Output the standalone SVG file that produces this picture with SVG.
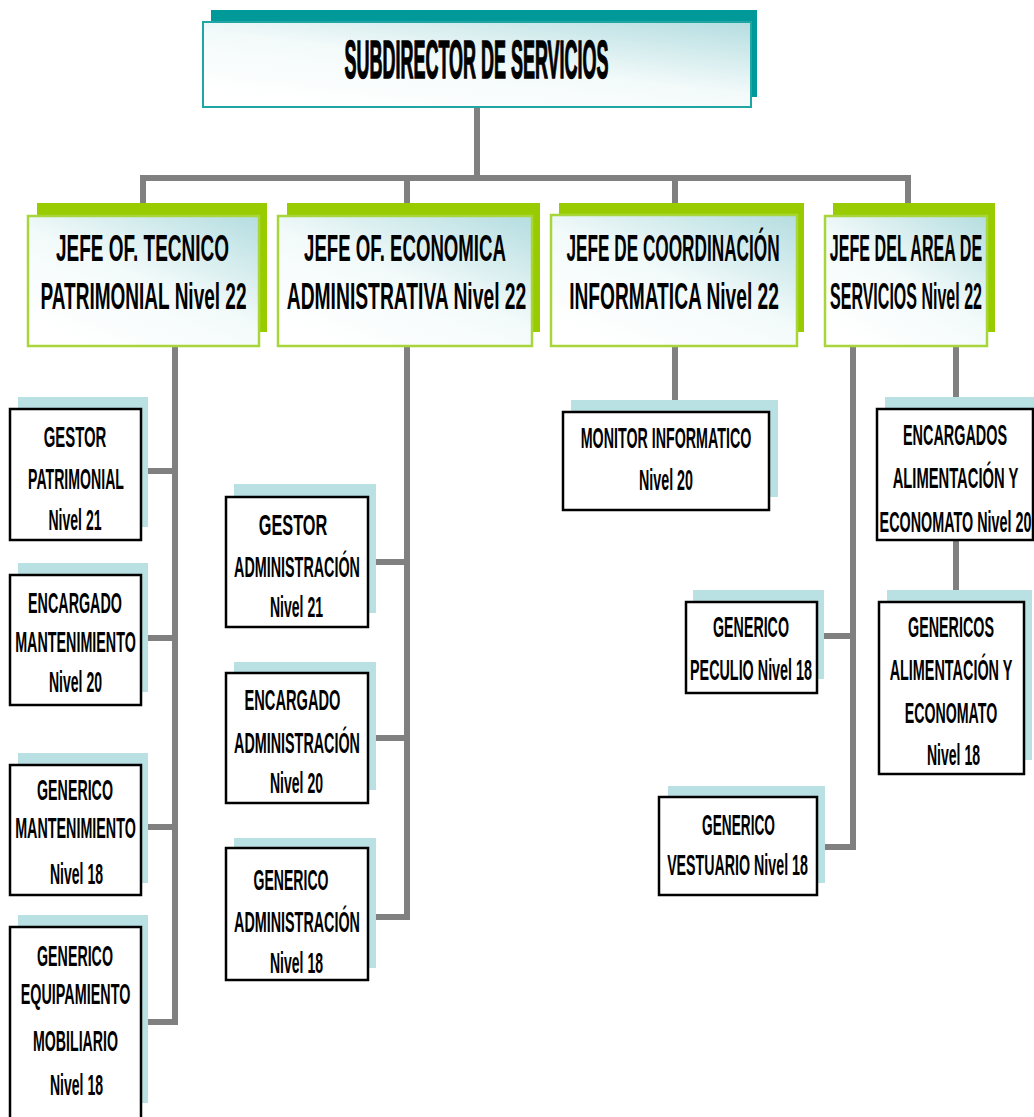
<svg xmlns="http://www.w3.org/2000/svg" width="1034" height="1117" viewBox="0 0 1034 1117">
<defs>
<linearGradient id="g" x1="0.25" y1="1" x2="1" y2="0">
<stop offset="0" stop-color="#ffffff"/>
<stop offset="0.45" stop-color="#f3fafa"/>
<stop offset="1" stop-color="#b4dde0"/>
</linearGradient>
<style>
.conn{fill:none;stroke:#808080;stroke-width:6;stroke-linejoin:miter}
.tsh{fill:#009999}
.tmain{fill:url(#g);stroke:#20a5a5;stroke-width:2}
.gsh{fill:#99cc00}
.gmain{fill:url(#g);stroke:#a8d63a;stroke-width:2.5}
.bsh{fill:#b9e0e3}
.bmain{fill:#ffffff;stroke:#000000;stroke-width:2.5}
text{text-anchor:middle;fill:#000;font-family:"Liberation Sans",Arial,sans-serif;font-weight:bold}
.title{font-size:53px;stroke:#000;stroke-width:1.5px}
.l2{font-size:37px}
.l3{font-size:29px}
</style>
</defs>
<rect width="1034" height="1117" fill="#ffffff"/>
<g id="connectors">
<path class="conn" d="M477,107 V178 M143,178 H908 M143,175 V203 M407,175 V203 M675,175 V203 M908,175 V203"/>
<path class="conn" d="M175,346 V1022 H148 M148,471 H175 M148,638 H175 M148,827 H175"/>
<path class="conn" d="M407,346 V917 H376 M376,562 H407 M376,738 H407"/>
<path class="conn" d="M675,346 V400"/>
<path class="conn" d="M853,346 V847 H825 M824,636 H853 M956,346 V397 M956,540 V590"/>
</g>
<g id="subdirector">
<rect class="tsh" x="211" y="10" width="546" height="87"/>
<rect class="tmain" x="203" y="22" width="548" height="85"/>
<text class="title" transform="translate(476.5,78) scale(0.339,1)">SUBDIRECTOR DE SERVICIOS</text>
</g>
<g id="jefe-tecnico">
<rect class="gsh" x="37" y="203" width="230" height="129"/>
<rect class="gmain" x="28" y="216" width="231" height="130"/>
<text class="l2" transform="translate(142.5,261) scale(0.513,1)">JEFE OF. TECNICO</text>
<text class="l2" transform="translate(143.5,309) scale(0.514,1)">PATRIMONIAL Nivel 22</text>
</g>
<g id="jefe-economica">
<rect class="gsh" x="287" y="203" width="253" height="129"/>
<rect class="gmain" x="278" y="216" width="254" height="130"/>
<text class="l2" transform="translate(405,261) scale(0.504,1)">JEFE OF. ECONOMICA</text>
<text class="l2" transform="translate(406.5,309) scale(0.521,1)">ADMINISTRATIVA Nivel 22</text>
</g>
<g id="jefe-informatica">
<rect class="gsh" x="559" y="203" width="245" height="129"/>
<rect class="gmain" x="551" y="215" width="246" height="131"/>
<text class="l2" transform="translate(673,261) scale(0.465,1)">JEFE DE COORDINACIÓN</text>
<text class="l2" transform="translate(674,309) scale(0.518,1)">INFORMATICA Nivel 22</text>
</g>
<g id="jefe-servicios">
<rect class="gsh" x="833" y="203" width="162" height="129"/>
<rect class="gmain" x="825" y="216" width="162" height="130"/>
<text class="l2" transform="translate(906,261) scale(0.435,1)">JEFE DEL AREA DE</text>
<text class="l2" transform="translate(906,309) scale(0.433,1)">SERVICIOS Nivel 22</text>
</g>
<g id="gestor-patrimonial">
<rect class="bsh" x="18" y="397" width="130" height="130"/>
<rect class="bmain" x="10" y="409" width="131" height="131"/>
<text class="l3" transform="translate(75,447) scale(0.514,1)">GESTOR</text>
<text class="l3" transform="translate(76,489) scale(0.487,1)">PATRIMONIAL</text>
<text class="l3" transform="translate(75,530) scale(0.484,1)">Nivel 21</text>
</g>
<g id="encargado-mantenimiento">
<rect class="bsh" x="18" y="563" width="130" height="129"/>
<rect class="bmain" x="10" y="575" width="131" height="130"/>
<text class="l3" transform="translate(75,613) scale(0.494,1)">ENCARGADO</text>
<text class="l3" transform="translate(75.5,652) scale(0.494,1)">MANTENIMIENTO</text>
<text class="l3" transform="translate(75.5,692) scale(0.484,1)">Nivel 20</text>
</g>
<g id="generico-mantenimiento">
<rect class="bsh" x="18" y="753" width="130" height="130"/>
<rect class="bmain" x="10" y="765" width="131" height="130"/>
<text class="l3" transform="translate(75,800) scale(0.491,1)">GENERICO</text>
<text class="l3" transform="translate(75.5,838) scale(0.494,1)">MANTENIMIENTO</text>
<text class="l3" transform="translate(76.5,884) scale(0.484,1)">Nivel 18</text>
</g>
<g id="generico-equipamiento">
<rect class="bsh" x="18" y="915" width="130" height="188"/>
<rect class="bmain" x="10" y="927" width="131" height="200"/>
<text class="l3" transform="translate(75,966) scale(0.491,1)">GENERICO</text>
<text class="l3" transform="translate(75.5,1004) scale(0.496,1)">EQUIPAMIENTO</text>
<text class="l3" transform="translate(75.5,1051) scale(0.489,1)">MOBILIARIO</text>
<text class="l3" transform="translate(76.5,1095) scale(0.484,1)">Nivel 18</text>
</g>
<g id="gestor-administracion">
<rect class="bsh" x="234" y="484" width="142" height="129"/>
<rect class="bmain" x="226" y="497" width="142" height="130"/>
<text class="l3" transform="translate(293,535) scale(0.563,1)">GESTOR</text>
<text class="l3" transform="translate(297,577) scale(0.495,1)">ADMINISTRACIÓN</text>
<text class="l3" transform="translate(296.5,617) scale(0.484,1)">Nivel 21</text>
</g>
<g id="encargado-administracion">
<rect class="bsh" x="234" y="662" width="142" height="128"/>
<rect class="bmain" x="226" y="673" width="142" height="130"/>
<text class="l3" transform="translate(292.5,710) scale(0.505,1)">ENCARGADO</text>
<text class="l3" transform="translate(297,753) scale(0.495,1)">ADMINISTRACIÓN</text>
<text class="l3" transform="translate(296.5,793) scale(0.484,1)">Nivel 20</text>
</g>
<g id="generico-administracion">
<rect class="bsh" x="234" y="838" width="142" height="130"/>
<rect class="bmain" x="226" y="848" width="142" height="132"/>
<text class="l3" transform="translate(291,890) scale(0.485,1)">GENERICO</text>
<text class="l3" transform="translate(297,932) scale(0.495,1)">ADMINISTRACIÓN</text>
<text class="l3" transform="translate(296.5,973) scale(0.484,1)">Nivel 18</text>
</g>
<g id="monitor-informatico">
<rect class="bsh" x="571" y="400" width="207" height="97"/>
<rect class="bmain" x="563" y="412" width="206" height="98"/>
<text class="l3" transform="translate(666,448) scale(0.492,1)">MONITOR INFORMATICO</text>
<text class="l3" transform="translate(666,490) scale(0.493,1)">Nivel 20</text>
</g>
<g id="generico-peculio">
<rect class="bsh" x="693" y="590" width="131" height="89"/>
<rect class="bmain" x="686" y="602" width="131" height="91"/>
<text class="l3" transform="translate(751,637) scale(0.491,1)">GENERICO</text>
<text class="l3" transform="translate(751,680) scale(0.495,1)">PECULIO Nivel 18</text>
</g>
<g id="generico-vestuario">
<rect class="bsh" x="668" y="786" width="157" height="97"/>
<rect class="bmain" x="659" y="797" width="158" height="98"/>
<text class="l3" transform="translate(738.5,835) scale(0.472,1)">GENERICO</text>
<text class="l3" transform="translate(737.5,875) scale(0.491,1)">VESTUARIO Nivel 18</text>
</g>
<g id="encargados-alimentacion">
<rect class="bsh" x="885" y="397" width="160" height="130"/>
<rect class="bmain" x="877" y="409" width="156" height="131"/>
<text class="l3" transform="translate(955,445) scale(0.497,1)">ENCARGADOS</text>
<text class="l3" transform="translate(955.5,488) scale(0.509,1)">ALIMENTACIÓN Y</text>
<text class="l3" transform="translate(955.5,532) scale(0.495,1)">ECONOMATO Nivel 20</text>
</g>
<g id="genericos-alimentacion">
<rect class="bsh" x="887" y="590" width="145" height="170"/>
<rect class="bmain" x="879" y="602" width="145" height="172"/>
<text class="l3" transform="translate(951,637) scale(0.494,1)">GENERICOS</text>
<text class="l3" transform="translate(951,680) scale(0.497,1)">ALIMENTACIÓN Y</text>
<text class="l3" transform="translate(951,723) scale(0.49,1)">ECONOMATO</text>
<text class="l3" transform="translate(953.5,765) scale(0.484,1)">Nivel 18</text>
</g>
</svg>
